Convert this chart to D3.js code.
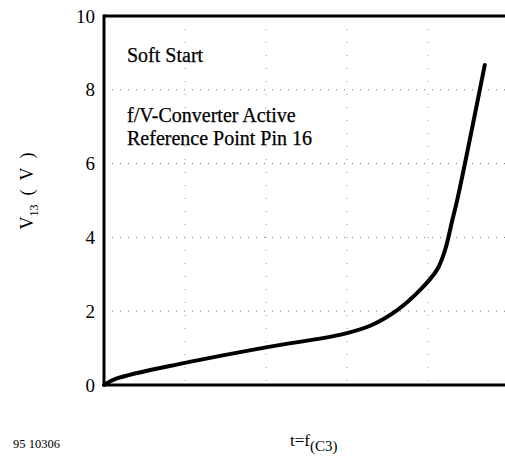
<!DOCTYPE html>
<html><head><meta charset="utf-8">
<script src="https://cdn.jsdelivr.net/npm/d3@7"></script>
</head><body style="margin:0;background:#fff">
<svg id="c" width="505" height="460" style="display:block"></svg>
<script>
const tValues = [0, 0.15, 1.0, 2.0, 2.95, 3.3, 3.62, 3.90, 4.11, 4.21, 4.30, 4.36, 4.70];
const vValues = [0, 0.17, 0.6, 1.02, 1.38, 1.62, 2.03, 2.57, 3.12, 3.66, 4.47, 5.01, 8.67];
const yTicks = [0, 2, 4, 6, 8, 10];
const xGrid = [1, 2, 3, 4];
const annotations = ["Soft Start", "f/V-Converter Active", "Reference Point Pin 16"];

const FONT = "Liberation Serif";
const svg = d3.select("#c");
const m = {l:104, t:16, r:505, b:385};
const x = d3.scaleLinear().domain([0, 4.95]).range([m.l, m.r]);
const y = d3.scaleLinear().domain([0, 10]).range([m.b, m.t]);

// grid
svg.append("g").selectAll("line").data(yTicks.filter(d=>d>0&&d<10)).join("line")
  .attr("x1", m.l).attr("x2", m.r).attr("y1", d=>y(d)).attr("y2", d=>y(d))
  .attr("stroke", "#777").attr("stroke-width", 1).attr("stroke-dasharray", "1,7");
svg.append("g").selectAll("line").data(xGrid).join("line")
  .attr("y1", m.t).attr("y2", m.b).attr("x1", d=>x(d)).attr("x2", d=>x(d))
  .attr("stroke", "#999").attr("stroke-width", 1).attr("stroke-dasharray", "1,12");

// axis
const ax = d3.axisLeft(y).tickValues(yTicks).tickSize(0).tickPadding(9);
const g = svg.append("g").attr("transform", `translate(${m.l},0)`).call(ax);
g.attr("font-family", FONT).attr("font-size", 19);
g.select(".domain").remove();
g.selectAll("text").attr("font-family", FONT).attr("font-size", 19).attr("fill", "#000");

// frame
svg.append("line").attr("x1", m.l).attr("x2", m.l).attr("y1", m.t-1.5).attr("y2", m.b+1.5).attr("stroke","#000").attr("stroke-width",3);
svg.append("line").attr("x1", m.l).attr("x2", m.r).attr("y1", m.t).attr("y2", m.t).attr("stroke","#000").attr("stroke-width",3);
svg.append("line").attr("x1", m.l).attr("x2", m.r).attr("y1", m.b).attr("y2", m.b).attr("stroke","#000").attr("stroke-width",3);

// curve
const pts = tValues.map((t,i)=>[t, vValues[i]]);
svg.append("path").datum(pts)
  .attr("d", d3.line().x(d=>x(d[0])).y(d=>y(d[1])).curve(d3.curveCatmullRom.alpha(0.5)))
  .attr("fill","none").attr("stroke","#000").attr("stroke-width",4).attr("stroke-linecap","round");

// annotations
const ay = [62, 122, 145];
annotations.forEach((s,i)=>svg.append("text").attr("x",127).attr("y",ay[i])
  .attr("font-family", FONT).attr("font-size", 20).attr("stroke","#000").attr("stroke-width",0.25).text(s));

// y label
const yl = svg.append("text").attr("transform","translate(33,191) rotate(-90)").attr("text-anchor","middle")
  .attr("font-family", FONT).attr("font-size", 18);
yl.append("tspan").text("V");
yl.append("tspan").attr("dy",5).attr("font-size", 12).text("13");
yl.append("tspan").attr("dy",-5).text("\u00a0\u00a0(\u00a0\u00a0V\u00a0\u00a0)");

// x label
const xl = svg.append("text").attr("x",290).attr("y",446).attr("font-family", FONT).attr("font-size", 17);
xl.append("tspan").text("t=f");
xl.append("tspan").attr("dy",5).attr("font-size", 15).text("(C3)");

svg.append("text").attr("x",13).attr("y",448).attr("font-family", FONT).attr("font-size", 12.5).text("95 10306");
</script></body></html>
